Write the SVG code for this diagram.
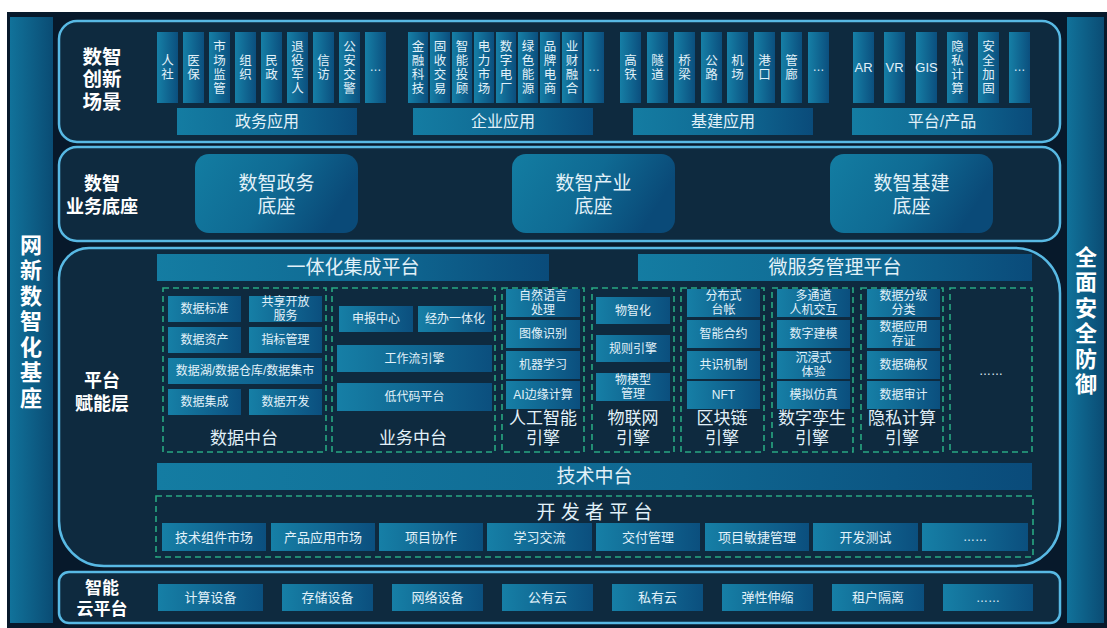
<svg xmlns="http://www.w3.org/2000/svg" width="1107" height="628" viewBox="0 0 1107 628">
<defs>
<linearGradient id="gTile" x1="0" y1="0" x2="1" y2="0"><stop offset="0" stop-color="#167fa6"/><stop offset="1" stop-color="#0b4f7e"/></linearGradient>
<linearGradient id="gBar" x1="0" y1="0" x2="1" y2="0"><stop offset="0" stop-color="#147ca2"/><stop offset="0.6" stop-color="#0f6791"/><stop offset="1" stop-color="#0a4b7a"/></linearGradient>
<linearGradient id="gBox" x1="0" y1="0" x2="1" y2="0.3"><stop offset="0" stop-color="#137da2"/><stop offset="0.55" stop-color="#0f6a93"/><stop offset="1" stop-color="#0a4a78"/></linearGradient>
<linearGradient id="gSide" x1="0" y1="0" x2="1" y2="0"><stop offset="0" stop-color="#11729a"/><stop offset="1" stop-color="#0a4c74"/></linearGradient>
<style>
text{font-family:"Liberation Sans","Noto Sans CJK SC",sans-serif;dominant-baseline:central;text-anchor:middle;fill:#e2f1f9}
.sec{fill:#0e2a3f;stroke:#58b9e4;stroke-width:2.5}
.tile{fill:url(#gTile)}
.bar{fill:url(#gBar)}
.box{fill:url(#gBox)}
.side{fill:url(#gSide)}
.dash{fill:none;stroke:#29a883;stroke-width:1.6;stroke-dasharray:6 4}
.v{font-size:12.5px}
.t13{font-size:13px}
.t12{font-size:12px}
.t16{font-size:16px}
.t19{font-size:19px}
.t17{font-size:17px}
.hd{font-weight:bold;fill:#ffffff}
.sidet{font-size:22px;font-weight:bold;fill:#ffffff}
</style>
</defs>
<rect x="0" y="0" width="1107" height="628" fill="#ffffff"/>
<rect x="7" y="12" width="1100" height="616" fill="#07192b"/>

<g id="left-bar">
<rect class="side" x="10" y="17" width="43" height="606"/>
<text class="sidet" x="31" y="245">网</text><text class="sidet" x="31" y="270.5">新</text><text class="sidet" x="31" y="296">数</text><text class="sidet" x="31" y="321.5">智</text><text class="sidet" x="31" y="347">化</text><text class="sidet" x="31" y="372.5">基</text><text class="sidet" x="31" y="398">座</text>
</g>
<g id="right-bar">
<rect class="side" x="1067" y="17" width="37" height="606"/>
<text class="sidet" x="1086" y="257">全</text><text class="sidet" x="1086" y="282.5">面</text><text class="sidet" x="1086" y="308">安</text><text class="sidet" x="1086" y="333.5">全</text><text class="sidet" x="1086" y="359">防</text><text class="sidet" x="1086" y="384.5">御</text>
</g>

<g id="scenarios">
<rect class="sec" x="59" y="21" width="1001" height="121" rx="18"/>
<text class="hd" font-size="19.5" x="102" y="56.5">数智</text>
<text class="hd" font-size="19.5" x="102" y="79">创新</text>
<text class="hd" font-size="19.5" x="102" y="101.5">场景</text>

<rect class="tile" x="157" y="32" width="21" height="71"/><text class="v" x="167.5" y="60.5">人<tspan x="167.5" dy="14">社</tspan></text>
<rect class="tile" x="183" y="32" width="21" height="71"/><text class="v" x="193.5" y="60.5">医<tspan x="193.5" dy="14">保</tspan></text>
<rect class="tile" x="209" y="32" width="21" height="71"/><text class="v" x="219.5" y="46.5">市<tspan x="219.5" dy="14">场</tspan><tspan x="219.5" dy="14">监</tspan><tspan x="219.5" dy="14">管</tspan></text>
<rect class="tile" x="235" y="32" width="21" height="71"/><text class="v" x="245.5" y="60.5">组<tspan x="245.5" dy="14">织</tspan></text>
<rect class="tile" x="261" y="32" width="21" height="71"/><text class="v" x="271.5" y="60.5">民<tspan x="271.5" dy="14">政</tspan></text>
<rect class="tile" x="287" y="32" width="21" height="71"/><text class="v" x="297.5" y="46.5">退<tspan x="297.5" dy="14">役</tspan><tspan x="297.5" dy="14">军</tspan><tspan x="297.5" dy="14">人</tspan></text>
<rect class="tile" x="313" y="32" width="21" height="71"/><text class="v" x="323.5" y="60.5">信<tspan x="323.5" dy="14">访</tspan></text>
<rect class="tile" x="339" y="32" width="21" height="71"/><text class="v" x="349.5" y="46.5">公<tspan x="349.5" dy="14">安</tspan><tspan x="349.5" dy="14">交</tspan><tspan x="349.5" dy="14">警</tspan></text>
<rect class="tile" x="365" y="32" width="21" height="71"/><text class="t12" x="375.5" y="67">…</text>
<rect class="bar" x="177" y="108" width="180" height="27"/><text class="t16" x="267" y="121.5">政务应用</text>

<rect class="tile" x="408" y="32" width="20" height="71"/><text class="v" x="418" y="46.5">金<tspan x="418" dy="14">融</tspan><tspan x="418" dy="14">科</tspan><tspan x="418" dy="14">技</tspan></text>
<rect class="tile" x="430" y="32" width="20" height="71"/><text class="v" x="440" y="46.5">固<tspan x="440" dy="14">收</tspan><tspan x="440" dy="14">交</tspan><tspan x="440" dy="14">易</tspan></text>
<rect class="tile" x="452" y="32" width="20" height="71"/><text class="v" x="462" y="46.5">智<tspan x="462" dy="14">能</tspan><tspan x="462" dy="14">投</tspan><tspan x="462" dy="14">顾</tspan></text>
<rect class="tile" x="474" y="32" width="20" height="71"/><text class="v" x="484" y="46.5">电<tspan x="484" dy="14">力</tspan><tspan x="484" dy="14">市</tspan><tspan x="484" dy="14">场</tspan></text>
<rect class="tile" x="496" y="32" width="20" height="71"/><text class="v" x="506" y="46.5">数<tspan x="506" dy="14">字</tspan><tspan x="506" dy="14">电</tspan><tspan x="506" dy="14">厂</tspan></text>
<rect class="tile" x="518" y="32" width="20" height="71"/><text class="v" x="528" y="46.5">绿<tspan x="528" dy="14">色</tspan><tspan x="528" dy="14">能</tspan><tspan x="528" dy="14">源</tspan></text>
<rect class="tile" x="540" y="32" width="20" height="71"/><text class="v" x="550" y="46.5">品<tspan x="550" dy="14">牌</tspan><tspan x="550" dy="14">电</tspan><tspan x="550" dy="14">商</tspan></text>
<rect class="tile" x="562" y="32" width="20" height="71"/><text class="v" x="572" y="46.5">业<tspan x="572" dy="14">财</tspan><tspan x="572" dy="14">融</tspan><tspan x="572" dy="14">合</tspan></text>
<rect class="tile" x="584" y="32" width="20" height="71"/><text class="t12" x="594" y="67">…</text>
<rect class="bar" x="413" y="108" width="180" height="27"/><text class="t16" x="503" y="121.5">企业应用</text>

<rect class="tile" x="620" y="32" width="21" height="71"/><text class="v" x="630.5" y="60.5">高<tspan x="630.5" dy="14">铁</tspan></text>
<rect class="tile" x="647" y="32" width="21" height="71"/><text class="v" x="657.5" y="60.5">隧<tspan x="657.5" dy="14">道</tspan></text>
<rect class="tile" x="674" y="32" width="21" height="71"/><text class="v" x="684.5" y="60.5">桥<tspan x="684.5" dy="14">梁</tspan></text>
<rect class="tile" x="701" y="32" width="21" height="71"/><text class="v" x="711.5" y="60.5">公<tspan x="711.5" dy="14">路</tspan></text>
<rect class="tile" x="727" y="32" width="21" height="71"/><text class="v" x="737.5" y="60.5">机<tspan x="737.5" dy="14">场</tspan></text>
<rect class="tile" x="754" y="32" width="21" height="71"/><text class="v" x="764.5" y="60.5">港<tspan x="764.5" dy="14">口</tspan></text>
<rect class="tile" x="781" y="32" width="21" height="71"/><text class="v" x="791.5" y="60.5">管<tspan x="791.5" dy="14">廊</tspan></text>
<rect class="tile" x="808" y="32" width="21" height="71"/><text class="t12" x="818.5" y="67">…</text>
<rect class="bar" x="633" y="108" width="180" height="27"/><text class="t16" x="723" y="121.5">基建应用</text>

<rect class="tile" x="853" y="32" width="21" height="71"/><text class="t13" x="863.5" y="67.5">AR</text>
<rect class="tile" x="884" y="32" width="21" height="71"/><text class="t13" x="894.5" y="67.5">VR</text>
<rect class="tile" x="916" y="32" width="21" height="71"/><text class="t13" x="926.5" y="67.5">GIS</text>
<rect class="tile" x="947" y="32" width="21" height="71"/><text class="v" x="957.5" y="46.5">隐<tspan x="957.5" dy="14">私</tspan><tspan x="957.5" dy="14">计</tspan><tspan x="957.5" dy="14">算</tspan></text>
<rect class="tile" x="978" y="32" width="21" height="71"/><text class="v" x="988.5" y="46.5">安<tspan x="988.5" dy="14">全</tspan><tspan x="988.5" dy="14">加</tspan><tspan x="988.5" dy="14">固</tspan></text>
<rect class="tile" x="1009" y="32" width="21" height="71"/><text class="t12" x="1019.5" y="67">…</text>
<rect class="bar" x="852" y="108" width="180" height="27"/><text class="t16" x="942" y="121.5">平台/产品</text>
</g>

<g id="business-base">
<rect class="sec" x="59" y="147" width="1001" height="94" rx="18"/>
<text class="hd" font-size="18" x="102" y="184">数智</text>
<text class="hd" font-size="18" x="102" y="207">业务底座</text>
<rect class="box" x="195" y="154" width="163" height="79" rx="14"/><text class="t19" x="276.5" y="183">数智政务</text><text class="t19" x="276.5" y="206">底座</text>
<rect class="box" x="512" y="154" width="163" height="79" rx="14"/><text class="t19" x="593.5" y="183">数智产业</text><text class="t19" x="593.5" y="206">底座</text>
<rect class="box" x="830" y="154" width="163" height="79" rx="14"/><text class="t19" x="911.5" y="183">数智基建</text><text class="t19" x="911.5" y="206">底座</text>
</g>

<g id="platform-layer">
<path class="sec" d="M 89 248 H 1015 A 45 45 0 0 1 1060 293 V 521 A 45 45 0 0 1 1015 566 H 104 A 45 45 0 0 1 59 521 V 278 A 30 30 0 0 1 89 248 Z"/>
<text class="hd" font-size="18" x="102" y="381">平台</text>
<text class="hd" font-size="18" x="102" y="404">赋能层</text>
<rect class="bar" x="157" y="254" width="392" height="27"/><text class="t19" x="353" y="267.5">一体化集成平台</text>
<rect class="bar" x="638" y="254" width="394" height="27"/><text class="t19" x="835" y="267.5">微服务管理平台</text>
</g>

<g id="data-center">
<rect class="dash" x="163" y="288" width="163" height="164"/>
<rect class="tile" x="168" y="296" width="73" height="26"/><text class="t12" x="204.5" y="309">数据标准</text>
<rect class="tile" x="249" y="296" width="73" height="26"/><text class="t12" x="285.5" y="302">共享开放</text><text class="t12" x="285.5" y="316">服务</text>
<rect class="tile" x="168" y="327" width="73" height="26"/><text class="t12" x="204.5" y="340">数据资产</text>
<rect class="tile" x="249" y="327" width="73" height="26"/><text class="t12" x="285.5" y="340">指标管理</text>
<rect class="tile" x="168" y="358" width="154" height="26"/><text class="t12" x="245" y="371">数据湖/数据仓库/数据集市</text>
<rect class="tile" x="168" y="389" width="73" height="26"/><text class="t12" x="204.5" y="402">数据集成</text>
<rect class="tile" x="249" y="389" width="73" height="26"/><text class="t12" x="285.5" y="402">数据开发</text>
<text class="t17" x="244" y="438">数据中台</text>
</g>

<g id="business-center">
<rect class="dash" x="332" y="288" width="163" height="164"/>
<rect class="tile" x="339" y="306" width="74" height="26"/><text class="t12" x="376" y="319">申报中心</text>
<rect class="tile" x="418" y="306" width="74" height="26"/><text class="t12" x="455" y="319">经办一体化</text>
<rect class="tile" x="337" y="345" width="155" height="27"/><text class="t12" x="414.5" y="358.5">工作流引擎</text>
<rect class="tile" x="337" y="383" width="155" height="28"/><text class="t12" x="414.5" y="397">低代码平台</text>
<text class="t17" x="413" y="438">业务中台</text>
</g>

<g id="ai-engine">
<rect class="dash" x="502" y="288" width="82" height="164"/>
<rect class="tile" x="506" y="289" width="74" height="28"/><text class="t12" x="543" y="296">自然语言</text><text class="t12" x="543" y="310">处理</text>
<rect class="tile" x="506" y="320" width="74" height="28"/><text class="t12" x="543" y="334">图像识别</text>
<rect class="tile" x="506" y="351" width="74" height="28"/><text class="t12" x="543" y="365">机器学习</text>
<rect class="tile" x="506" y="381" width="74" height="28"/><text class="t12" x="543" y="395">AI边缘计算</text>
<text class="t17" x="543" y="418">人工智能</text><text class="t17" x="543" y="438">引擎</text>
</g>

<g id="iot-engine">
<rect class="dash" x="592" y="288" width="82" height="164"/>
<rect class="tile" x="596" y="297" width="74" height="27"/><text class="t12" x="633" y="310.5">物智化</text>
<rect class="tile" x="596" y="335" width="74" height="27"/><text class="t12" x="633" y="348.5">规则引擎</text>
<rect class="tile" x="596" y="373" width="74" height="28"/><text class="t12" x="633" y="380">物模型</text><text class="t12" x="633" y="394">管理</text>
<text class="t17" x="633" y="418">物联网</text><text class="t17" x="633" y="438">引擎</text>
</g>

<g id="blockchain-engine">
<rect class="dash" x="681" y="288" width="83" height="164"/>
<rect class="tile" x="687" y="289" width="73" height="28"/><text class="t12" x="723.5" y="296">分布式</text><text class="t12" x="723.5" y="310">台帐</text>
<rect class="tile" x="687" y="320" width="73" height="28"/><text class="t12" x="723.5" y="334">智能合约</text>
<rect class="tile" x="687" y="351" width="73" height="28"/><text class="t12" x="723.5" y="365">共识机制</text>
<rect class="tile" x="687" y="381" width="73" height="28"/><text class="t12" x="723.5" y="395">NFT</text>
<text class="t17" x="722" y="418">区块链</text><text class="t17" x="722" y="438">引擎</text>
</g>

<g id="twin-engine">
<rect class="dash" x="772" y="288" width="81" height="164"/>
<rect class="tile" x="777" y="289" width="73" height="28"/><text class="t12" x="813.5" y="296">多通道</text><text class="t12" x="813.5" y="310">人机交互</text>
<rect class="tile" x="777" y="320" width="73" height="28"/><text class="t12" x="813.5" y="334">数字建模</text>
<rect class="tile" x="777" y="351" width="73" height="28"/><text class="t12" x="813.5" y="358">沉浸式</text><text class="t12" x="813.5" y="372">体验</text>
<rect class="tile" x="777" y="381" width="73" height="28"/><text class="t12" x="813.5" y="395">模拟仿真</text>
<text class="t17" x="812" y="418">数字孪生</text><text class="t17" x="812" y="438">引擎</text>
</g>

<g id="privacy-engine">
<rect class="dash" x="861" y="288" width="82" height="164"/>
<rect class="tile" x="867" y="289" width="73" height="28"/><text class="t12" x="903.5" y="296">数据分级</text><text class="t12" x="903.5" y="310">分类</text>
<rect class="tile" x="867" y="320" width="73" height="28"/><text class="t12" x="903.5" y="327">数据应用</text><text class="t12" x="903.5" y="341">存证</text>
<rect class="tile" x="867" y="351" width="73" height="28"/><text class="t12" x="903.5" y="365">数据确权</text>
<rect class="tile" x="867" y="381" width="73" height="28"/><text class="t12" x="903.5" y="395">数据审计</text>
<text class="t17" x="902" y="418">隐私计算</text><text class="t17" x="902" y="438">引擎</text>
</g>

<g id="more-engine">
<rect class="dash" x="950" y="288" width="82" height="164"/>
<text class="t12" x="991" y="371">……</text>
</g>

<g id="tech-center">
<rect class="bar" x="157" y="463" width="875" height="27"/><text class="t19" x="594.5" y="476.5">技术中台</text>
</g>

<g id="dev-platform">
<rect class="dash" x="156" y="496" width="877" height="61"/>
<text class="t19" x="594.5" y="512">开 发 者 平 台</text>
<rect class="tile" x="162" y="523" width="104" height="28"/><text class="t13" x="214" y="537">技术组件市场</text>
<rect class="tile" x="271" y="523" width="104" height="28"/><text class="t13" x="323" y="537">产品应用市场</text>
<rect class="tile" x="379" y="523" width="104" height="28"/><text class="t13" x="431" y="537">项目协作</text>
<rect class="tile" x="487" y="523" width="105" height="28"/><text class="t13" x="539.5" y="537">学习交流</text>
<rect class="tile" x="596" y="523" width="104" height="28"/><text class="t13" x="648" y="537">交付管理</text>
<rect class="tile" x="705" y="523" width="104" height="28"/><text class="t13" x="757" y="537">项目敏捷管理</text>
<rect class="tile" x="813" y="523" width="105" height="28"/><text class="t13" x="865.5" y="537">开发测试</text>
<rect class="tile" x="922" y="523" width="106" height="28"/><text class="t12" x="975" y="537">……</text>
</g>

<g id="cloud-platform">
<rect class="sec" x="59" y="572" width="1001" height="51" rx="10"/>
<text class="hd" font-size="17" x="102" y="588">智能</text>
<text class="hd" font-size="17" x="102" y="609">云平台</text>
<rect class="tile" x="158" y="584" width="105" height="27"/><text class="t13" x="210.5" y="597.5">计算设备</text>
<rect class="tile" x="282" y="584" width="91" height="27"/><text class="t13" x="327.5" y="597.5">存储设备</text>
<rect class="tile" x="392" y="584" width="91" height="27"/><text class="t13" x="437.5" y="597.5">网络设备</text>
<rect class="tile" x="502" y="584" width="91" height="27"/><text class="t13" x="547.5" y="597.5">公有云</text>
<rect class="tile" x="612" y="584" width="91" height="27"/><text class="t13" x="657.5" y="597.5">私有云</text>
<rect class="tile" x="722" y="584" width="91" height="27"/><text class="t13" x="767.5" y="597.5">弹性伸缩</text>
<rect class="tile" x="832" y="584" width="92" height="27"/><text class="t13" x="878" y="597.5">租户隔离</text>
<rect class="tile" x="943" y="584" width="90" height="27"/><text class="t12" x="988" y="597.5">……</text>
</g>
<g id="connectors"></g>
</svg>
